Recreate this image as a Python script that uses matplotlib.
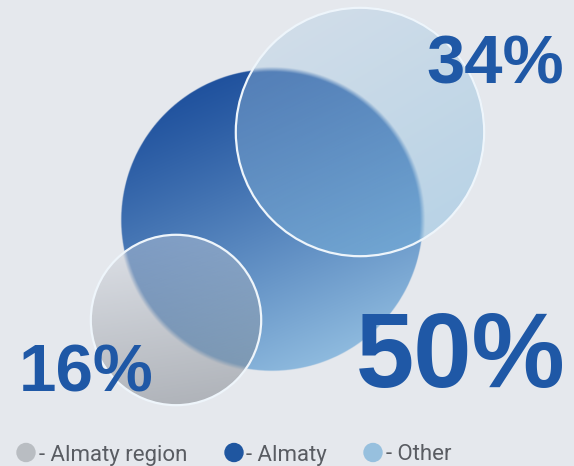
import numpy as np
import matplotlib
matplotlib.use("Agg")
import matplotlib.pyplot as plt
from matplotlib.patches import Circle

# ---- data ----
categories = ["Almaty region", "Almaty", "Other"]
shares = [16, 50, 34]
value_labels = ["16%", "50%", "34%"]
legend_colors = ["#b9bdc2", "#1f56a0", "#97c0de"]

# ---- layout (pixel space) ----
W, H = 574, 466
BG = "#e5e8ed"
TEXT_BLUE = "#1f58a6"
RADIUS_SCALE = 21.3          # radius = scale * sqrt(share)
centers = {"Almaty region": (176, 320), "Almaty": (272, 220), "Other": (360, 132)}

fig = plt.figure(figsize=(W / 100, H / 100), dpi=100, facecolor=BG)
ax = fig.add_axes([0, 0, 1, 1])
ax.set_xlim(0, W)
ax.set_ylim(H, 0)
ax.set_aspect("equal")
ax.axis("off")
ax.set_facecolor(BG)

radius = {c: RADIUS_SCALE * np.sqrt(v) for c, v in zip(categories, shares)}


def grid(cx, cy, r, n=600):
    xs = np.linspace(cx - r, cx + r, n)
    ys = np.linspace(cy - r, cy + r, n)
    return np.meshgrid(xs, ys)


def lerp(c0, c1, t):
    c0 = np.array(c0, float) / 255
    c1 = np.array(c1, float) / 255
    return c0[None, None, :] * (1 - t[..., None]) + c1[None, None, :] * t[..., None]


def along(X, Y, cx, cy, r, d):
    d = np.array(d, float)
    d /= np.linalg.norm(d)
    return np.clip((((X - cx) * d[0] + (Y - cy) * d[1]) / r + 1) / 2, 0, 1)


# ---- main circle (Almaty) ----
cx, cy = centers["Almaty"]
R = radius["Almaty"]
X, Y = grid(cx, cy, R + 8)
t = along(X, Y, cx, cy, R, (0.4, 0.92))
rgb = lerp((32, 82, 158), (142, 186, 222), t ** 1.1)
dist = np.hypot(X - cx, Y - cy)
# edges seen through the frosted circles look soft
under_glass = np.zeros_like(dist, bool)
for c in ("Other", "Almaty region"):
    gx, gy = centers[c]
    under_glass |= np.hypot(X - gx, Y - gy) < radius[c]
soft = np.where(under_glass, 5.0, 0.6)
alpha = np.clip((R - dist) / soft + 0.5, 0, 1)
ax.imshow(np.dstack([rgb, alpha]), extent=(cx - R - 8, cx + R + 8, cy + R + 8, cy - R - 8),
          interpolation="bilinear", zorder=1)


def glass(cat, c0, c1, direction, opacity):
    gx, gy = centers[cat]
    r = radius[cat]
    Xg, Yg = grid(gx, gy, r + 2)
    tg = along(Xg, Yg, gx, gy, r, direction)
    col = lerp(c0, c1, tg)
    d = np.hypot(Xg - gx, Yg - gy)
    a = np.clip((r - d) / 0.6 + 0.5, 0, 1) * opacity
    ax.imshow(np.dstack([col, a]), extent=(gx - r - 2, gx + r + 2, gy + r + 2, gy - r - 2),
              interpolation="bilinear", zorder=2)
    ax.add_patch(Circle((gx, gy), r, fill=False, ec="#eef5fb", lw=1.6, zorder=3))


glass("Other", (174, 203, 226), (113, 177, 219), (0.5, 0.85), 0.38)
glass("Almaty region", (208, 212, 220), (102, 107, 115), (0.15, 1.0), 0.42)

# ---- value labels ----
label_fonts = ["Liberation Sans", "Arial", "DejaVu Sans"]
label_pos = {"16%": (86, 392, 48.5), "50%": (461, 387, 75.5), "34%": (495, 83, 49.5)}
for lab in value_labels:
    x, y, fs = label_pos[lab]
    ax.text(x, y, lab, ha="center", va="baseline", fontsize=fs, fontweight="bold",
            color=TEXT_BLUE, family=label_fonts, zorder=5)

# ---- legend ----
leg_marker_x = [26, 234, 373]
leg_text_x = [39, 246, 386]
for cat, col, mx, tx in zip(categories, legend_colors, leg_marker_x, leg_text_x):
    ax.add_patch(Circle((mx, 452.5), 9, color=col, zorder=5))
    ax.text(tx, 460.5, "- " + cat, ha="left", va="baseline", fontsize=16,
            color="#595c62", family=["Roboto", "DejaVu Sans"], zorder=5)

fig.savefig("out.png", dpi=100, facecolor=BG)
